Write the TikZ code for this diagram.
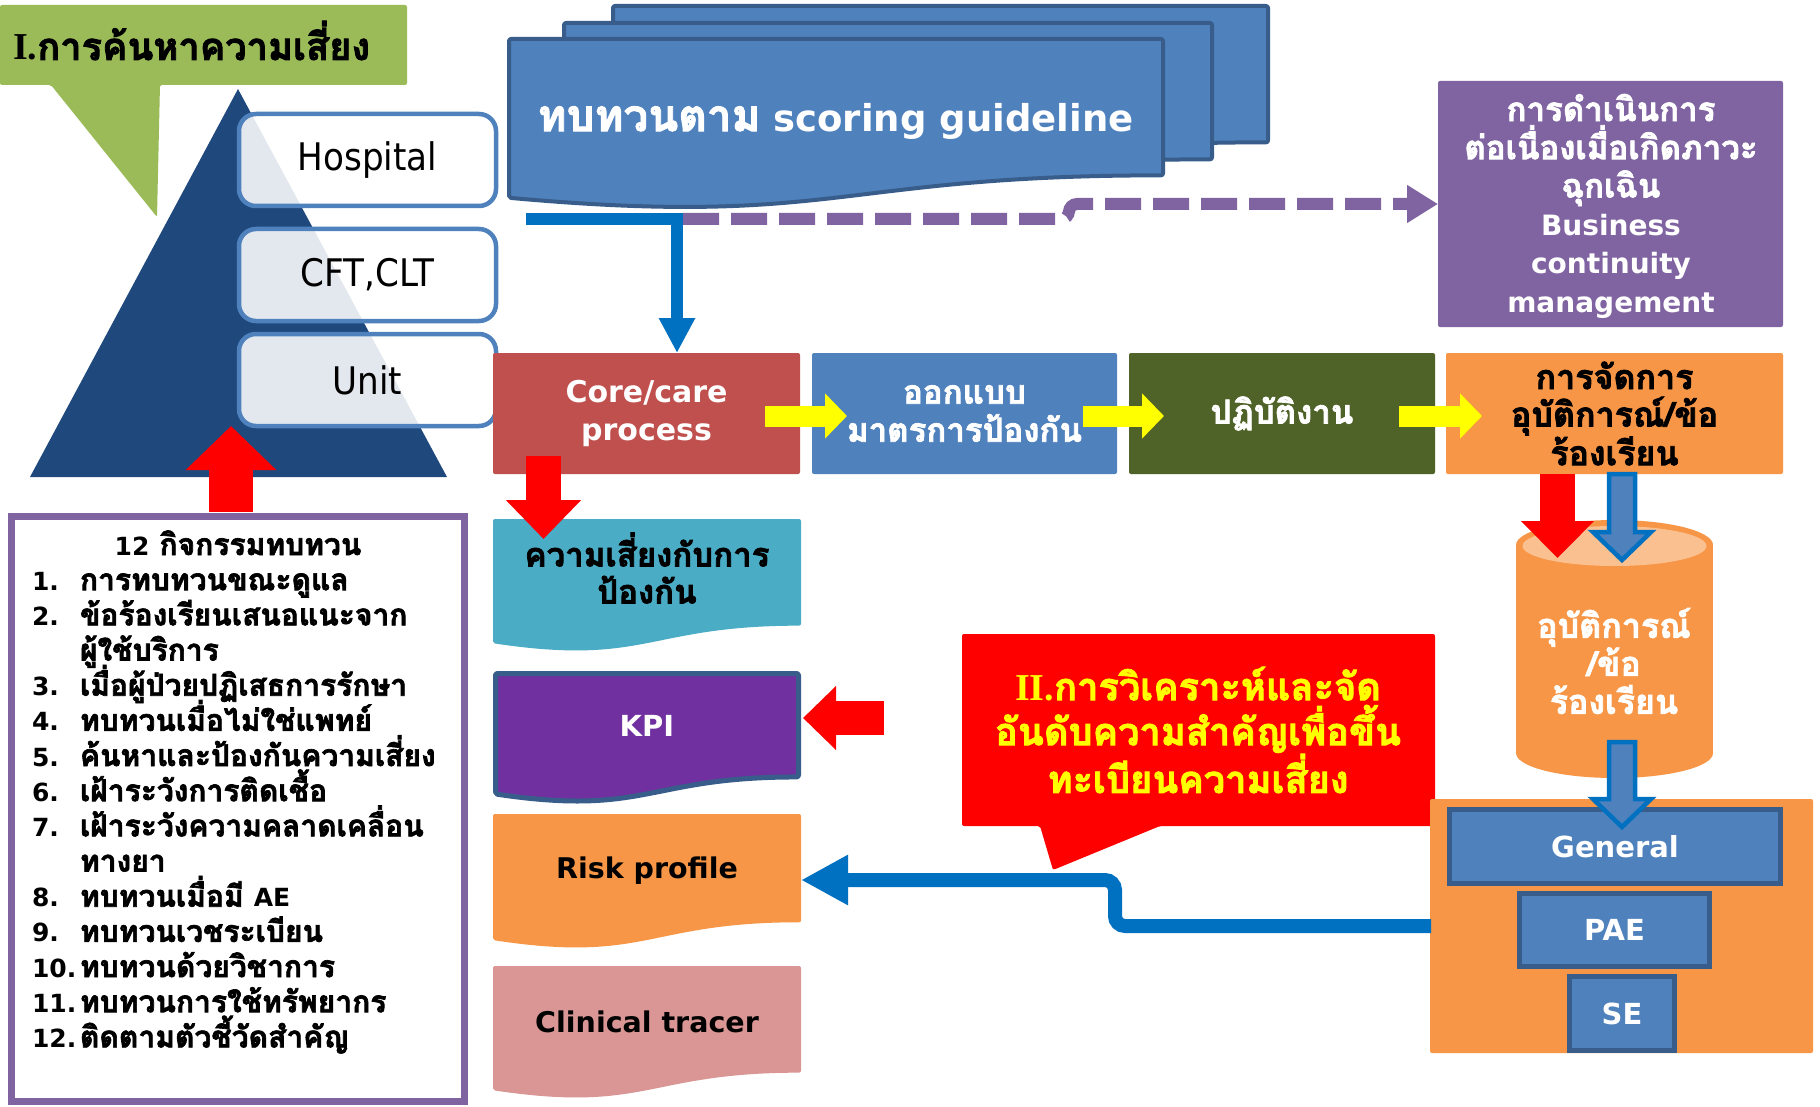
\documentclass[tikz,border=0pt]{standalone}
\usepackage{fontspec}
\setmainfont{DejaVu Sans}
\newfontfamily\thai[Script=Thai,BoldFeatures={FakeBold=2.2}]{Loma}
\newfontfamily\serf{Liberation Serif}
\newfontfamily\narrowsans[FakeStretch=0.9]{DejaVu Sans}
\usetikzlibrary{arrows.meta}

\definecolor{cgreen}{HTML}{9BBB59}
\definecolor{cnavy}{HTML}{1F497D}
\definecolor{cblue}{HTML}{4F81BD}
\definecolor{cedge}{HTML}{385D8A}
\definecolor{cpurple}{HTML}{8064A2}
\definecolor{cred}{HTML}{C0504D}
\definecolor{colive}{HTML}{4F6228}
\definecolor{corange}{HTML}{F79646}
\definecolor{clightor}{HTML}{FAC090}
\definecolor{cteal}{HTML}{4BACC6}
\definecolor{cviolet}{HTML}{7030A0}
\definecolor{cpink}{HTML}{D99694}
\definecolor{clink}{HTML}{0070C0}
\definecolor{cyel}{HTML}{FFFF00}

\newcommand\fs[2]{\fontsize{#1}{#2}\selectfont}
% wavy-bottom document shape: style, left, top, width, height
\newcommand\docshape[5]{\path[#1] (#2,#3) -- ({#2+#4},#3) -- ({#2+#4},{#3+0.802*#5})
  .. controls ({#2+0.5*#4},{#3+0.802*#5}) and ({#2+0.5*#4},{#3+1.1075*#5}) .. (#2,{#3+0.934*#5}) -- cycle;}

\begin{document}
\begin{tikzpicture}[x=1pt,y=-1pt,
  every node/.style={inner sep=0pt,outer sep=0pt},
  tier/.style={draw=cblue,line width=4.5pt,rounded corners=17pt,fill=white,fill opacity=0.88,
    text opacity=1,minimum width=257pt,minimum height=92pt,font=\narrowsans\fs{38}{40}},
  procbox/.style={minimum height=121pt,rounded corners=2pt},
  doc/.style={rounded corners=2pt,line join=round},
  tierbox/.style={fill=cblue,draw=cedge,line width=5pt,text=white,font=\bfseries\fs{29}{32}},
  yarrow/.style={draw=cyel,line width=21pt,-{Triangle[length=22pt,width=44pt]}},
  rarrow/.style={draw=red}
]
\useasboundingbox (0,0) rectangle (1820,1107);
\fill[white] (0,0) rectangle (1820,1107);

% ---- section I callout
\fill[cgreen,rounded corners=2pt] (0,5) -- (407,5) -- (407,85) -- (160,85) -- (157,217) -- (51,85) -- (0,85) -- cycle;
\node[anchor=base west,font=\fs{38}{40}] (findrisk) at (13,60) {{\serf\bfseries I.}{\thai\bfseries การค้นหาความเสี่ยง}};

% ---- pyramid of levels
\fill[cnavy] (238,89) -- (447,477) -- (30,477) -- cycle;
\node[tier] (hosp) at (367.5,160) {Hospital};
\node[tier] (cft) at (367.5,275) {CFT,CLT};
\node[tier] (unit) at (367.5,380) {Unit};

% ---- stacked scoring documents
\docshape{doc,fill=cblue,draw=cedge,line width=4pt}{613}{6}{655}{170}
\docshape{doc,fill=cblue,draw=cedge,line width=4pt}{564}{23}{648}{170}
\docshape{doc,fill=cblue,draw=cedge,line width=4pt}{509}{39}{654}{170}
\node[text=white,font=\bfseries\fs{37}{40}] (scoring) at (835.5,121)
  {{\thai\bfseries\fs{44}{46}ทบทวนตาม} scoring guideline};
\coordinate (scorefoot) at (526,219);
\coordinate (bend) at (677,219);

% ---- continuity box
\node[fill=cpurple,minimum width=345pt,minimum height=246pt,rounded corners=2pt] (bcm) at (1610.5,204) {};
\node[text=white,align=center,font=\bfseries\fs{28}{38.2}] (bcmtext) at (1611,206)
  {{\thai\bfseries\fs{33}{38.2}การดำเนินการ}\\{\thai\bfseries\fs{33}{38.2}ต่อเนื่องเมื่อเกิดภาวะ}\\{\thai\bfseries\fs{33}{38.2}ฉุกเฉิน}\\Business\\continuity\\management};

% ---- process row
\node[procbox,fill=cred,minimum width=307pt,text=white,align=center,font=\bfseries\fs{30}{38}] (core) at (646.5,413.5) {Core/care\\process};
\node[procbox,fill=cblue,minimum width=305pt,text=white,align=center,font=\thai\bfseries\fs{33}{38}] (design) at (964.5,413.5) {ออกแบบ\\มาตรการป้องกัน};
\node[procbox,fill=colive,minimum width=306pt,text=white,font=\thai\bfseries\fs{33}{36}] (practice) at (1282,413.5) {ปฏิบัติงาน};
\node[procbox,fill=corange,minimum width=337pt,align=center,font=\thai\bfseries\fs{34}{37.5}] (manage) at (1614.5,413.5) {การจัดการ\\อุบัติการณ์/ข้อ\\ร้องเรียน};

\draw[yarrow] ([shift={(-35,2.5)}]core.east) -- ([shift={(35,2.5)}]design.west);
\draw[yarrow] ([shift={(-34,2.5)}]design.east) -- ([shift={(35,2.5)}]practice.west);
\draw[yarrow] ([shift={(-36,2.5)}]practice.east) -- ([shift={(36,2.5)}]manage.west);

% ---- connectors from the scoring documents
\draw[clink,line width=12pt,-{Triangle[length=35pt,width=34pt]}] (scorefoot) -- (bend) -- (bend |- core.north);
\draw[cpurple,line width=12pt,dash pattern=on 36pt off 12pt,rounded corners=8pt,-{Triangle[length=31pt,width=36pt]}]
  ([xshift=6]bend) -- (1069,219) -- (1069,204) -- (bcm.west);

% ---- output documents
\docshape{doc,fill=cteal}{493}{519}{308}{133}
\node[align=center,font=\thai\bfseries\fs{33}{37}] (riskprev) at (647,568) {ความเสี่ยงกับการ\\ป้องกัน};
\docshape{doc,fill=cviolet,draw=cedge,line width=5pt}{495.5}{673.5}{303}{129}
\node[text=white,font=\bfseries\fs{29}{32}] (kpi) at (647,726) {KPI};
\docshape{doc,fill=corange}{493}{814}{308}{135}
\node[font=\bfseries\fs{28.5}{32}] (profile) at (647,871) {Risk profile};
\docshape{doc,fill=cpink}{493}{966}{308}{133}
\node[font=\bfseries\fs{28.5}{32}] (tracer) at (647,1022) {Clinical tracer};

% ---- red block arrows on the left
\coordinate (riskdrop) at (543.5,456);
\coordinate (listtop) at (231,512);
\coordinate (kpifeed) at (884,718);
\draw[rarrow,line width=35pt,-{Triangle[length=39pt,width=73pt]}] (riskdrop) -- (543.5,539);
\draw[rarrow,line width=34pt,line join=round,-{Triangle[length=33pt,width=62pt]}] (kpifeed) -- (803,718);

% ---- review list
\draw[cpurple,line width=7pt] (11.5,516) rectangle (464.5,1101.5);
\node[anchor=base,font=\thai\bfseries\fs{30}{30}] (listhead) at (238,555) {{\rmfamily\bfseries\fs{25}{30}12} กิจกรรมทบทวน};
\foreach \k/\n/\t in {1/1./การทบทวนขณะดูแล, 2/2./ข้อร้องเรียนเสนอแนะจาก, 3//ผู้ใช้บริการ,
  4/3./เมื่อผู้ป่วยปฏิเสธการรักษา, 5/4./ทบทวนเมื่อไม่ใช่แพทย์, 6/5./ค้นหาและป้องกันความเสี่ยง,
  7/6./เฝ้าระวังการติดเชื้อ, 8/7./เฝ้าระวังความคลาดเคลื่อน, 9//ทางยา, 10/8./ทบทวนเมื่อมี {\rmfamily\bfseries\fs{25}{30}AE},
  11/9./ทบทวนเวชระเบียน, 12/10./ทบทวนด้วยวิชาการ, 13/11./ทบทวนการใช้ทรัพยากร, 14/12./ติดตามตัวชี้วัดสำคัญ}{
  \node[anchor=base west,font=\bfseries\fs{25}{30}] (num\k) at (32,{555+35.17*\k}) {\n};
  \node[anchor=base west,font=\thai\bfseries\fs{30}{30}] (item\k) at (80,{555+35.17*\k}) {\t};
}
\draw[rarrow,line width=44pt,-{Triangle[length=44pt,width=88pt]}] (listtop) -- (listtop |- unit.south);

% ---- section II callout
\fill[red,rounded corners=2pt] (962,634) -- (1435,634) -- (1435,826) -- (1160,826) -- (1053,870) -- (1040,826) -- (962,826) -- cycle;
\node[text=cyel,align=center,font=\thai\bfseries\fs{38}{45}] (analyse) at (1198,730)
  {{\serf\bfseries II.}การวิเคราะห์และจัด\\อันดับความสำคัญเพื่อขึ้น\\ทะเบียนความเสี่ยง};

% ---- incident store
\fill[corange] (1614.5,753) ellipse[x radius=98.5,y radius=25];
\fill[corange] (1516,545) rectangle (1713,753);
\fill[corange] (1614.5,545) ellipse[x radius=98.5,y radius=25];
\fill[clightor] (1614.5,546) ellipse[x radius=92,y radius=20];
\node[text=white,align=center,font=\thai\bfseries\fs{34}{38}] (store) at (1614,661) {อุบัติการณ์\\/ข้อ\\ร้องเรียน};

% ---- severity levels
\fill[corange,rounded corners=2pt] (1430,799) rectangle (1813,1053);
\node[tierbox,minimum width=331pt,minimum height=74pt] (general) at (1615,846.5) {General};
\node[tierbox,minimum width=190pt,minimum height=73pt] (pae) at (1614.5,930) {PAE};
\node[tierbox,minimum width=105pt,minimum height=74pt] (se) at (1622,1013.5) {SE};

% ---- arrows into and out of the store
\coordinate (storedrop) at (1557.5,474);
\draw[rarrow,line width=35pt,-{Triangle[length=37pt,width=71pt]}] (storedrop) -- (1557.5,558);
\filldraw[fill=cblue,draw=clink,line width=4.5pt,line join=miter]
  (1609,474) -- (1635,474) -- (1635,532) -- (1651,532) -- (1622,560) -- (1593,532) -- (1609,532) -- cycle;
\filldraw[fill=cblue,draw=clink,line width=4.5pt,line join=miter]
  (1609,742) -- (1635,742) -- (1635,799) -- (1651,799) -- (1622,827) -- (1593,799) -- (1609,799) -- cycle;

% ---- register feeds the risk profile
\coordinate (regout) at (1431,926);
\coordinate (profin) at (801,880);
\draw[clink,line width=14pt,rounded corners=10pt,-{Triangle[length=47pt,width=47pt]}]
  (regout) -- (1115,926) -- (1115,880) -- (profin);
\end{tikzpicture}
\end{document}
